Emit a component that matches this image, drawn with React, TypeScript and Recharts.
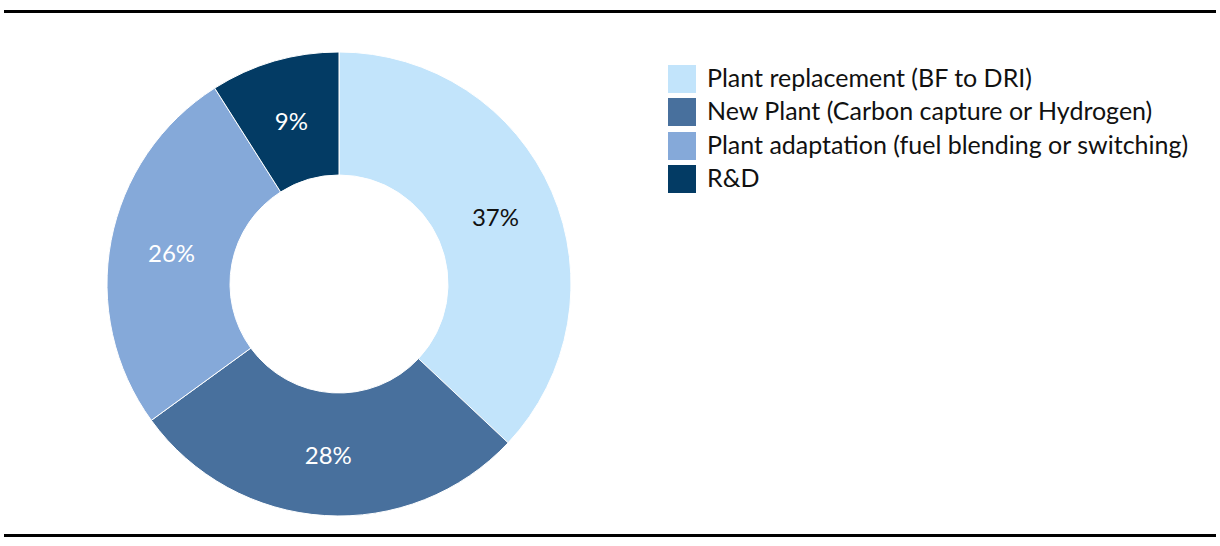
import { PieChart, Pie, Cell } from 'recharts';

// Data
const categories = [
  'Plant replacement (BF to DRI)',
  'New Plant (Carbon capture or Hydrogen)',
  'Plant adaptation (fuel blending or switching)',
  'R&D',
];
const shares = [37, 28, 26, 9];
const colors = ['#C2E4FB', '#48709D', '#85A9D9', '#033B64'];
const labelColors = ['#111111', '#FFFFFF', '#FFFFFF', '#FFFFFF'];

const data = categories.map((name, i) => ({ name, value: shares[i] }));

const FONT = 'Lato, "Noto Sans", sans-serif';
const RADIAN = Math.PI / 180;

function renderLabel(props: any) {
  const { cx, cy, midAngle, innerRadius, outerRadius, index, value } = props;
  const r = (innerRadius + outerRadius) / 2;
  const x = cx + r * Math.cos(-midAngle * RADIAN);
  const y = cy + r * Math.sin(-midAngle * RADIAN);
  return (
    <text
      x={x}
      y={y}
      fill={labelColors[index]}
      textAnchor="middle"
      dominantBaseline="central"
      fontFamily={FONT}
      fontSize={24}
    >
      {`${value}%`}
    </text>
  );
}

function ChartLegend() {
  return (
    <div
      style={{
        position: 'absolute',
        left: 668,
        top: 62,
        fontFamily: FONT,
        fontSize: 25,
        color: '#111',
      }}
    >
      {categories.map((name, i) => (
        <div key={name} style={{ display: 'flex', alignItems: 'center', height: 33.5 }}>
          <span
            style={{
              display: 'inline-block',
              width: 28,
              height: 28,
              background: colors[i],
              marginRight: 11,
            }}
          />
          <span style={{ position: 'relative', top: -2 }}>{name}</span>
        </div>
      ))}
    </div>
  );
}

export default function App() {
  return (
    <div style={{ position: 'absolute', left: 0, top: 0, width: 1220, height: 546, background: '#fff' }}>
      <div style={{ position: 'absolute', left: 4, top: 10, width: 1212, height: 3, background: '#000' }} />
      <div style={{ position: 'absolute', left: 4, top: 534, width: 1212, height: 3, background: '#000' }} />
      <div style={{ position: 'absolute', left: 0, top: 0 }}>
        <PieChart width={680} height={546} margin={{ top: 0, right: 0, bottom: 0, left: 0 }}>
          <Pie
            data={data}
            dataKey="value"
            nameKey="name"
            cx={339}
            cy={284}
            innerRadius={109}
            outerRadius={232}
            startAngle={90}
            endAngle={-270}
            stroke="#FFFFFF"
            strokeWidth={1}
            label={renderLabel}
            labelLine={false}
            isAnimationActive={false}
          >
            {data.map((entry, index) => (
              <Cell key={`cell-${index}`} fill={colors[index]} />
            ))}
          </Pie>
        </PieChart>
      </div>
      <ChartLegend />
    </div>
  );
}
